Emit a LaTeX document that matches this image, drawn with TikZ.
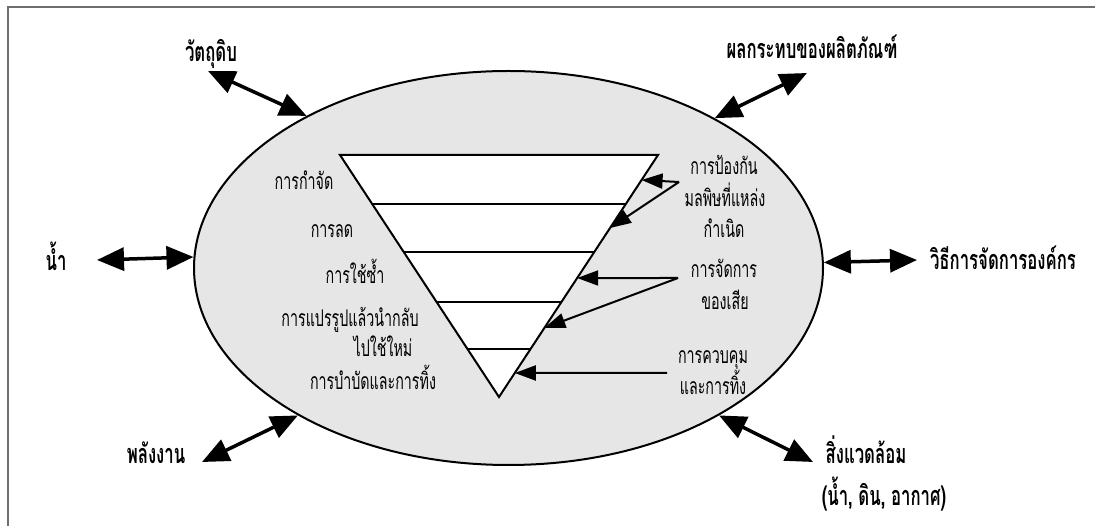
\documentclass[tikz,border=0pt]{standalone}
\usepackage{fontspec}
\newfontfamily\thaifont[Script=Thai, FakeStretch=0.62]{Loma}
\usepackage{tikz}
\usetikzlibrary{shapes.geometric, arrows.meta, positioning, calc}
\definecolor{pondgray}{RGB}{230,230,230}
\definecolor{framegray}{RGB}{110,110,110}

\begin{document}
\begin{tikzpicture}[x=1pt, y=-1pt,
    outerlabel/.style={font=\thaifont\bfseries\fontsize{27}{29}\selectfont,
                       inner sep=0pt, anchor=base},
    innerlabel/.style={font=\thaifont\fontsize{23}{25}\selectfont,
                       inner sep=0pt, anchor=base},
    bigarrow/.style={line width=3.5pt,
        {Triangle[length=27pt,width=23pt]}-{Triangle[length=27pt,width=23pt]}},
    thinarrow/.style={line width=2pt, -{Triangle[length=21pt,width=15pt]}}]
    \useasboundingbox (0,0) rectangle (1095,526);
    \draw[framegray, line width=1.3pt] (8,526) -- (8,7) -- (1095,7);

    % the big oval
    \node[ellipse, draw, fill=pondgray, line width=2pt, inner sep=0pt,
          minimum width=629pt, minimum height=394pt] (pond) at (508.5,268) {};

    % inverted pyramid
    \coordinate (TL) at (340,155);
    \coordinate (TR) at (658,155);
    \coordinate (V) at (499,397);
    \filldraw[fill=white, line width=2pt] (TL)--(TR)--(V)--cycle;
    \foreach \t in {0.2025,0.4008,0.6074,0.8017}
        \draw[line width=1.2pt] ($(TL)!\t!(V)$) -- ($(TR)!\t!(V)$);

    % left side labels
    \node[innerlabel] (dispose) at (304,190) {การกำจัด};
    \node[innerlabel] (reduce) at (332,238) {การลด};
    \node[innerlabel] (reuse) at (355,284) {การใช้ซ้ำ};
    \node[innerlabel] (recycle) at (350,327) {การแปรรูปแล้วนำกลับ};
    \node[innerlabel] (recycleb) at (383,357) {ไปใช้ใหม่};
    \node[innerlabel] (treat) at (373,390) {การบำบัดและการทิ้ง};

    % right side labels
    \node[innerlabel] (prevent) at (724,175) {การป้องกัน};
    \node[innerlabel] (preventb) at (725,207) {มลพิษที่แหล่ง};
    \node[innerlabel] (preventc) at (724,238) {กำเนิด};
    \node[innerlabel] (waste) at (724,278) {การจัดการ};
    \node[innerlabel] (wasteb) at (725,310) {ของเสีย};
    \node[innerlabel] (control) at (713,364) {การควบคุม};
    \node[innerlabel] (controlb) at (713,395) {และการทิ้ง};

    % arrows into the pyramid
    \coordinate (preventfoot) at (679,182);
    \coordinate (wastefoot) at (678,278);
    \coordinate (controlfoot) at (667,373);
    \draw[thinarrow] (preventfoot) -- ($(TR)!0.1033!(V)$);
    \draw[thinarrow] (preventfoot) -- ($(TR)!0.3017!(V)$);
    \draw[thinarrow] (wastefoot) -- ($(TR)!0.5083!(V)$);
    \draw[thinarrow] (wastefoot) -- ($(TR)!0.7149!(V)$);
    \draw[thinarrow] (controlfoot) -- ($(TR)!0.9008!(V)$);

    % outside labels
    \node[outerlabel] (rawmat) at (211,62) {วัตถุดิบ};
    \node[outerlabel] (product) at (812,59) {ผลกระทบของผลิตภัณฑ์};
    \node[outerlabel] (water) at (56,271) {น้ำ};
    \node[outerlabel] (orgmgmt) at (1003,270) {วิธีการจัดการองค์กร};
    \node[outerlabel] (energy) at (156,463) {พลังงาน};
    \node[outerlabel] (environ) at (866,463) {สิ่งแวดล้อม};
    \node[outerlabel] (environb) at (884,505) {(น้ำ, ดิน, อากาศ)};

    % two-way arrows
    \coordinate (rawtip) at (208,71);
    \coordinate (producttip) at (807,73);
    \coordinate (watertip) at (97,260);
    \coordinate (orgtip) at (917,260);
    \coordinate (energytip) at (202,462);
    \coordinate (environtip) at (813,462);
    \draw[bigarrow] (rawtip) -- (pond.143.7);
    \draw[bigarrow] (producttip) -- (pond.36);
    \draw[bigarrow] (watertip) -- (pond.178.5);
    \draw[bigarrow] (orgtip) -- (pond.1.5);
    \draw[bigarrow] (energytip) -- (pond.215);
    \draw[bigarrow] (environtip) -- (pond.325);
\end{tikzpicture}
\end{document}
